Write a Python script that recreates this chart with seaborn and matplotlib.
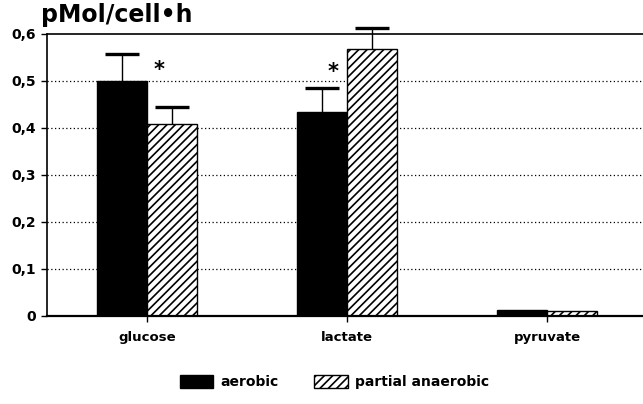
import matplotlib
matplotlib.use("Agg")
import matplotlib.pyplot as plt
import seaborn as sns
import pandas as pd
from matplotlib.patches import Patch

# Metabolite turnover per cell and hour
metabolites = ["glucose", "lactate", "pyruvate"]
conditions = ["aerobic", "partial anaerobic"]
aerobic_mean = [0.50, 0.434, 0.013]
aerobic_sd = [0.057, 0.051, 0.0]
anaerobic_mean = [0.408, 0.568, 0.010]
anaerobic_sd = [0.037, 0.045, 0.0]
# significance markers: height and horizontal offset from the group centre
star_height = [0.523, 0.519]
star_offset = [0.06, -0.07]
star_groups = ["glucose", "lactate"]
y_ticks = [0, 0.1, 0.2, 0.3, 0.4, 0.5, 0.6]
y_tick_labels = ["0", "0,1", "0,2", "0,3", "0,4", "0,5", "0,6"]

df = pd.DataFrame({
    "metabolite": metabolites * 2,
    "condition": [conditions[0]] * 3 + [conditions[1]] * 3,
    "value": aerobic_mean + anaerobic_mean,
    "sd": aerobic_sd + anaerobic_sd,
})

sns.set_style("white")
plt.rcParams["font.family"] = ["DejaVu Sans"]
plt.rcParams["hatch.linewidth"] = 1.2
plt.rcParams["text.color"] = "black"
plt.rcParams["xtick.color"] = "black"
plt.rcParams["ytick.color"] = "black"
plt.rcParams["axes.labelcolor"] = "black"

HATCH = "////"
CAP_HALF = 0.083  # half width of the error-bar caps in category units

fig = plt.figure(figsize=(6.43, 4.04), dpi=100)
ax = fig.add_axes([0.073, 0.218, 0.927, 0.698])

sns.barplot(data=df, x="metabolite", y="value", hue="condition",
            order=metabolites, hue_order=conditions,
            palette=["black", "white"], width=0.5, errorbar=None,
            edgecolor="black", linewidth=1.0, legend=False, ax=ax)

# hatch the partial-anaerobic bars, add upper-only error bars
n = len(metabolites)
patches = list(ax.patches)[: 2 * n]
for i, p in enumerate(patches):
    if i // n == 1:
        p.set_hatch(HATCH)
        p.set_facecolor("white")
    cx = p.get_x() + p.get_width() / 2
    row = df.iloc[i]
    if row["sd"] > 0:
        top = row["value"] + row["sd"]
        ax.vlines(cx, row["value"], top, color="black", linewidth=1.0,
                  zorder=5, clip_on=False)
        ax.hlines(top, cx - CAP_HALF, cx + CAP_HALF, color="black",
                  linewidth=2.4, zorder=5, clip_on=False)

for g, h, off in zip(star_groups, star_height, star_offset):
    xi = metabolites.index(g)
    ax.text(xi + off, h, "*", ha="center", va="center", fontsize=15,
            fontweight="bold", color="black", zorder=6)

ax.set_xlim(-0.5, 2.48)
ax.set_ylim(0, 0.6)
ax.set_yticks(y_ticks)
ax.set_yticklabels(y_tick_labels, fontsize=10, fontweight="bold")
ax.set_xticks(range(n))
ax.set_xticklabels(metabolites, fontsize=9.5, fontweight="bold")
ax.set_xlabel("")
ax.set_ylabel("")
for t in y_ticks[1:-1]:
    ax.axhline(t, color="black", linestyle=(0, (1, 2)), linewidth=0.9, zorder=0)
ax.axhline(0.6, color="black", linewidth=1.2, zorder=0, clip_on=False)

ax.tick_params(axis="y", direction="out", length=4, width=1, pad=4, left=True)
ax.tick_params(axis="x", direction="out", length=4, width=1, pad=7, bottom=True)
for side in ["top", "right"]:
    ax.spines[side].set_visible(False)
ax.spines["left"].set_linewidth(1.2)
ax.spines["bottom"].set_linewidth(1.6)
ax.spines["left"].set_color("black")
ax.spines["bottom"].set_color("black")

fig.text(0.064, 0.932, "pMol/cell\u2022h", fontsize=17, fontweight="bold",
         ha="left", va="bottom")

handles = [Patch(facecolor="black", edgecolor="black", label=conditions[0]),
           Patch(facecolor="white", edgecolor="black", hatch=HATCH,
                 label=conditions[1])]
fig.legend(handles=handles, loc="center", bbox_to_anchor=(0.52, 0.055),
           ncol=2, frameon=False, handlelength=2.4,
           handleheight=1.1, columnspacing=2.6, handletextpad=0.5,
           prop={"weight": "bold", "size": 10})

fig.savefig("out.png", dpi=100)
